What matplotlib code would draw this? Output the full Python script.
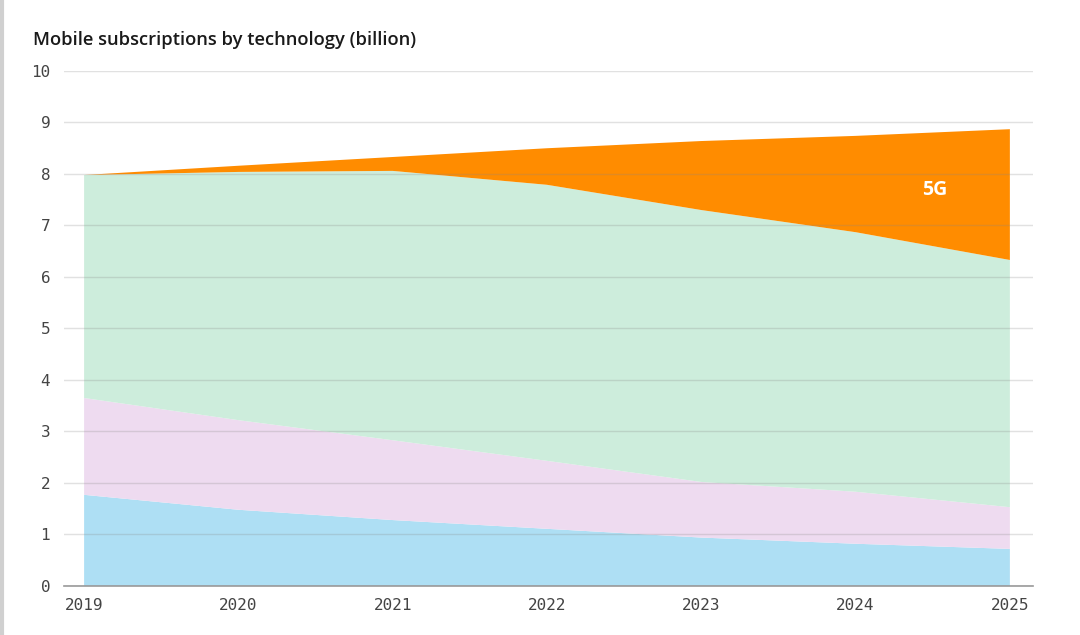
import matplotlib
matplotlib.use("Agg")
import matplotlib.pyplot as plt
from matplotlib.lines import Line2D

years = [2019, 2020, 2021, 2022, 2023, 2024, 2025]
gen2 = [1.77, 1.48, 1.28, 1.11, 0.94, 0.82, 0.72]
gen3 = [1.88, 1.74, 1.55, 1.32, 1.08, 1.01, 0.81]
gen4 = [4.33, 4.82, 5.23, 5.36, 5.28, 5.04, 4.80]
gen5 = [0.00, 0.12, 0.27, 0.71, 1.34, 1.87, 2.54]
colors = ["#aedff4", "#eedbf0", "#cdeddc", "#ff8c00"]
yticks = [0, 1, 2, 3, 4, 5, 6, 7, 8, 9, 10]

fig = plt.figure(figsize=(10.8, 6.35), dpi=100)
ax = fig.add_axes([0.0593, 0.0772, 0.8972, 0.8110])

ax.stackplot(years, gen2, gen3, gen4, gen5, colors=colors, linewidth=0, zorder=1)

ax.set_ylim(0, 10)
ax.set_xlim(2019 - 0.13, 2025 + 0.15)
ax.set_yticks(yticks)
ax.set_xticks(years)
ax.set_xticklabels([str(y) for y in years])
ax.grid(axis="y", color="#888888", alpha=0.25, linewidth=1.0, zorder=2)
ax.set_axisbelow(False)
for s in ["top", "right", "left"]:
    ax.spines[s].set_visible(False)
ax.spines["bottom"].set_color("#999999")
ax.spines["bottom"].set_linewidth(1.2)
ax.spines["bottom"].set_zorder(3)
ax.tick_params(axis="both", length=0, labelsize=11.5, colors="#444444",
               labelfontfamily="DejaVu Sans Mono")
ax.tick_params(axis="y", pad=10)
ax.tick_params(axis="x", pad=9)

ax.text(2024.51, 7.69, "5G", color="white", fontsize=14, fontweight="bold",
        family="Open Sans", ha="center", va="center", zorder=4)

fig.text(0.031, 0.937, "Mobile subscriptions by technology (billion)",
         fontsize=13.2, fontweight="semibold", family="Open Sans",
         color="#1a1a1a", ha="left", va="center")

fig.add_artist(Line2D([0.0015, 0.0015], [0, 1], transform=fig.transFigure,
                      color="#d0d0d0", linewidth=3))

fig.savefig("out.png", dpi=100)
